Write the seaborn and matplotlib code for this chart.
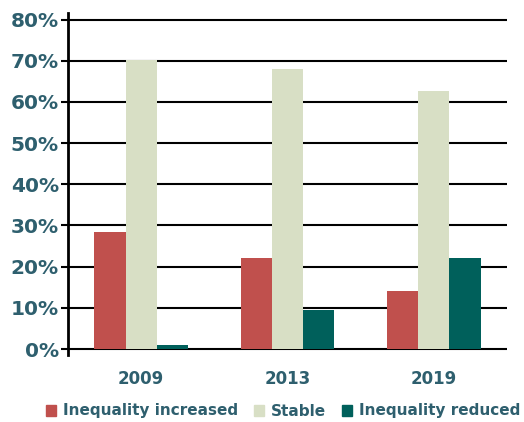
import pandas as pd
import matplotlib
matplotlib.use("Agg")
import matplotlib.pyplot as plt
import seaborn as sns

years = ["2009", "2013", "2019"]
series = ["Inequality increased", "Stable", "Inequality reduced"]
increased = [28.3, 22.2, 14.2]
stable = [70.1, 68.0, 62.6]
reduced = [1.0, 9.5, 22.1]
colors = ["#c0504d", "#d8dfc5", "#00605b"]

text_color = "#2e5f6e"

rows = []
for i, y in enumerate(years):
    rows.append({"Year": y, "Group": series[0], "Value": increased[i]})
    rows.append({"Year": y, "Group": series[1], "Value": stable[i]})
    rows.append({"Year": y, "Group": series[2], "Value": reduced[i]})
df = pd.DataFrame(rows)

sns.set_style("white")
plt.rcParams['font.family'] = ['DejaVu Sans']

fig = plt.figure(figsize=(5.24, 4.22), dpi=100)
ax = fig.add_axes([68 / 524, 1 - 355 / 422, (507 - 68) / 524, (355 - 13) / 422])

sns.barplot(data=df, x="Year", y="Value", hue="Group", hue_order=series,
            palette=colors, width=0.64, linewidth=0, saturation=1, ax=ax)

ax.set_xlim(-0.5, 2.5)
ax.set_ylim(-1.45, 81.6)
ax.set_yticks(range(0, 81, 10))
ax.set_yticklabels([f"{v}%" for v in range(0, 81, 10)])
ax.yaxis.grid(True, color="black", linewidth=1.5)
ax.set_axisbelow(True)
for s in ["top", "right", "bottom"]:
    ax.spines[s].set_visible(False)
ax.spines["left"].set_color("black")
ax.spines["left"].set_linewidth(2)
ax.tick_params(axis="y", left=True, length=5, width=1.5, color="black",
               labelsize=14.5, labelcolor=text_color, pad=1.5)
ax.tick_params(axis="x", bottom=False, labelsize=12, labelcolor=text_color, pad=7)
for lab in ax.get_yticklabels() + ax.get_xticklabels():
    lab.set_fontweight("bold")
ax.set_xlabel("")
ax.set_ylabel("")

ax.legend_.remove()
handles = [plt.Rectangle((0, 0), 1, 1, color=c) for c in colors]
leg = fig.legend(handles, series, loc="center", bbox_to_anchor=(283 / 524, 1 - 411 / 422),
                 ncol=3, frameon=False, handlelength=0.7, handleheight=0.7,
                 handletextpad=0.45, columnspacing=1.0,
                 prop={"weight": "bold", "size": 11})
for t in leg.get_texts():
    t.set_color(text_color)

fig.savefig("out.png", dpi=100)
